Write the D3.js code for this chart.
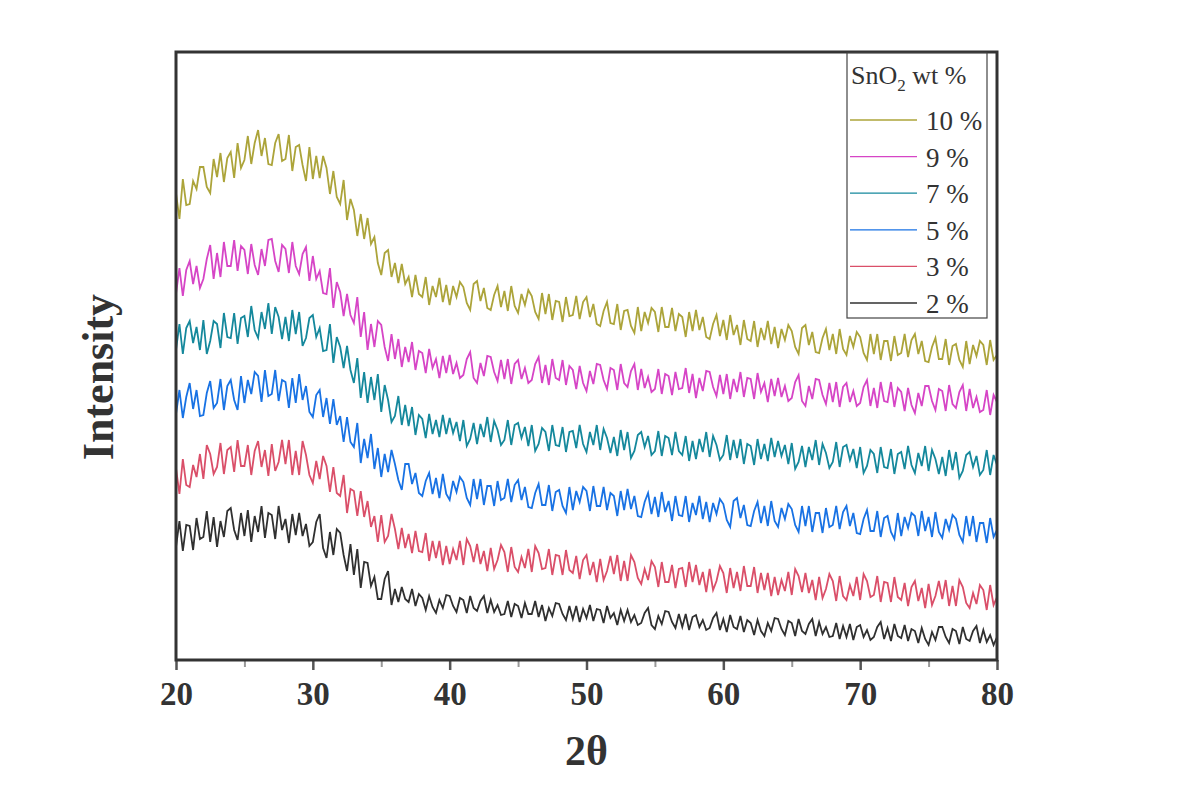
<!DOCTYPE html>
<html>
<head>
<meta charset="utf-8">
<script src="https://cdn.jsdelivr.net/npm/d3@7"></script>
<style>
  html, body { margin: 0; padding: 0; background: #fff; }
  svg { display: block; }
</style>
</head>
<body>
<div id="chart"></div>
<script>
// 2θ grid: 20° .. 80°, every 0.25°
const START = 20;
const STEP = 0.25;

const LABELS = ["10 %", "9 %", "7 %", "5 %", "3 %", "2 %"];
const COLORS = ["#aca43a", "#d645c6", "#15889c", "#1872e4", "#da4f69", "#303030"];

const X_TICKS = [20, 30, 40, 50, 60, 70, 80];
const X_MINOR = [25, 35, 45, 55, 65, 75];

// intensity (a.u., offset stacked)
const int10 = [
  467,441,481,455, 456,479,471,493, 493,473,467,501, 483,507,478,502, 508,482,517,492,
  500,524,496,517, 530,504,522,496, 495,517,526,499, 501,525,489,513, 515,495,479,513,
  481,504,482,504, 492,466,489,463, 456,480,440,461, 450,424,446,421, 442,416,423,397,
  385,407,410,383, 397,377,396,376, 383,363,385,366, 363,383,355,374, 363,382,358,375,
  355,374,363,378, 373,357,350,376, 379,359,372,352, 350,365,374,353, 369,349,374,354,
  347,366,355,370, 364,348,341,367, 346,366,340,359, 358,338,363,344, 345,364,341,358,
  363,343,356,336, 334,349,358,337, 336,356,330,349, 350,334,327,353, 329,348,337,352,
  348,328,353,333, 333,352,329,346, 343,323,348,329, 350,330,343,323, 321,336,345,324,
  340,320,345,325, 335,315,340,321, 319,339,313,332, 320,339,316,333, 312,331,320,335,
  329,313,306,332, 335,315,328,308, 307,322,331,310, 326,306,331,311, 305,324,313,328,
  323,307,300,326, 306,326,300,319, 319,299,324,305, 307,326,303,320, 326,306,319,299,
  298,313,322,301, 301,321,295,314, 316,300,293,319, 296,315,304,319, 315,295,320,300,
  305
];

const int9 = [
  366,392,364,390, 399,376,394,372, 381,401,415,381, 407,383,418,394, 394,420,389,414,
  410,386,416,395, 385,411,394,420, 421,399,388,415, 411,387,418,394, 386,406,413,379,
  404,381,389,367, 366,392,352,378, 368,344,366,345, 337,363,323,348, 310,336,313,339,
  335,313,299,326, 301,321,293,313, 298,318,290,309, 307,287,311,292, 301,282,304,287,
  305,286,297,282, 285,301,308,282, 277,297,284,304, 303,288,279,300, 281,301,276,296,
  300,281,292,277, 280,296,303,277, 295,275,301,282, 280,300,275,294, 290,271,294,277,
  269,289,276,296, 295,280,271,292, 290,270,296,277, 273,289,296,270, 291,272,283,268,
  271,291,266,286, 284,265,288,271, 272,292,267,286, 262,282,269,289, 288,273,264,285,
  266,286,261,281, 268,288,263,282, 281,261,287,268, 277,258,281,264, 282,263,274,259,
  262,278,285,259, 254,274,261,281, 280,265,256,277, 258,278,253,273, 277,258,269,254,
  257,273,280,254, 272,252,278,259, 258,278,253,272, 268,249,272,255, 247,267,254,274,
  274,259,250,271, 269,249,275,256, 252,268,275,249, 271,252,263,248, 250,270,245,265,
  258
];

const int7 = [
  310,336,306,332, 339,317,333,310, 340,306,319,339, 336,312,347,323, 322,347,316,342,
  344,323,354,330, 322,348,331,357, 326,353,343,321, 343,319,350,326, 348,314,322,342,
  345,323,332,309, 310,336,297,323, 313,292,314,290, 277,302,262,288, 257,283,260,286,
  248,275,260,238, 244,264,235,255, 234,253,225,245, 241,222,246,226, 240,223,245,226,
  242,227,238,219, 240,214,221,237, 216,236,223,243, 218,239,230,215, 220,240,215,235,
  237,222,233,214, 235,209,216,232, 228,209,235,215, 214,233,208,228, 229,212,235,216,
  208,228,215,235, 210,231,222,207, 223,204,230,210, 228,202,209,225, 228,213,224,205,
  209,229,204,224, 222,205,228,209, 205,224,199,219, 201,221,208,228, 203,224,215,200,
  205,225,200,220, 202,221,196,216, 214,195,221,201, 216,199,222,203, 219,204,215,196,
  217,191,198,214, 193,213,200,220, 195,216,207,192, 198,218,193,213, 215,200,211,192,
  213,187,194,210, 206,187,213,193, 192,211,186,206, 208,191,214,195, 187,207,194,214,
  189,210,201,186, 203,184,210,190, 208,182,189,205, 208,193,204,185, 190,210,185,205,
  195
];

const int5 = [
  246,270,242,263, 277,251,270,244, 245,267,279,252, 257,281,250,274, 280,260,250,284,
  257,280,266,288, 284,258,290,264, 266,290,259,280, 278,252,282,257, 286,260,274,248,
  243,265,270,243, 262,236,261,235, 244,218,243,218, 213,237,197,221, 202,226,191,212,
  183,206,188,210, 196,180,170,196, 196,176,187,167, 164,179,187,166, 182,162,186,166,
  160,179,168,183, 178,162,155,181, 161,181,155,174, 174,154,179,160, 162,181,158,175,
  180,160,173,153, 152,167,176,155, 155,175,149,168, 170,154,147,173, 150,169,158,173,
  169,149,174,154, 154,173,150,167, 164,144,169,150, 171,151,164,144, 143,158,167,146,
  163,143,168,148, 159,139,164,145, 144,164,138,157, 145,164,141,158, 138,157,146,161,
  156,140,133,159, 162,142,155,135, 134,149,158,137, 154,134,159,139, 133,152,141,156,
  151,135,128,154, 134,154,128,147, 147,127,152,133, 135,154,131,148, 154,134,147,127,
  126,141,150,129, 129,149,123,142, 144,128,121,147, 124,143,132,147, 144,124,149,129,
  143,123,148,128, 122,141,130,145, 141,125,118,144, 124,144,118,137, 137,117,142,123,
  130
];

const int3 = [
  192,166,201,175, 173,195,183,206, 181,215,206,186, 193,217,186,210, 213,188,220,194,
  194,215,185,209, 219,193,210,184, 216,189,198,220, 196,220,185,209, 185,219,205,185,
  177,199,181,204, 194,168,193,167, 164,185,147,171, 169,144,169,143, 159,133,144,118,
  145,118,124,146, 131,111,132,112, 126,107,129,109, 108,127,99,119, 102,119,95,114,
  96,111,100,119, 95,121,114,98, 116,96,109,89, 112,91,100,115, 108,88,113,93,
  88,103,92,111, 88,114,107,91, 92,111,85,105, 104,85,110,90, 87,104,81,100,
  105,85,98,78, 101,80,89,104, 86,105,79,99, 79,105,98,82, 76,91,80,99,
  93,73,98,78, 78,95,72,91, 92,73,98,78, 95,75,88,68, 91,70,79,94,
  87,67,92,72, 88,69,94,74, 74,93,67,87, 70,87,64,83, 65,80,69,88,
  65,91,84,68, 87,67,80,60, 83,62,71,86, 79,59,84,64, 60,75,64,83,
  60,86,79,63, 65,84,58,78, 77,58,83,63, 60,77,54,73, 79,59,72,52,
  76,55,64,79, 61,80,54,74, 54,80,73,57, 52,67,56,75, 70,50,75,55,
  63
];

const int2 = [
  113,139,109,135, 134,110,142,121, 123,149,118,143, 113,139,123,149, 152,130,120,147,
  124,150,118,144, 128,154,122,147, 145,121,154,130, 141,117,146,125, 147,124,136,114,
  118,138,146,112, 102,128,105,131, 127,105,89,116, 85,111,72,98, 97,74,83,61,
  61,81,89,55, 71,58,73,61, 58,71,54,66, 62,50,64,53, 47,60,52,65,
  64,54,48,62, 60,47,64,52, 49,59,64,47, 60,48,55,45, 46,59,43,56,
  54,42,57,46, 46,59,43,55, 39,52,44,57, 56,46,40,54, 41,54,38,51,
  42,55,39,51, 50,37,54,42, 47,35,50,39, 50,38,45,35, 37,47,52,35,
  31,44,36,49, 48,38,32,46, 33,46,30,43, 45,33,40,30, 32,42,47,30,
  41,28,45,33, 31,44,28,40, 37,25,40,29, 24,37,29,42, 41,31,25,39,
  37,24,41,29, 26,36,41,24, 38,26,33,23, 24,37,21,34, 23,36,20,33,
  35,23,30,20, 23,33,38,21, 32,19,36,24, 22,35,19,31, 29,17,32,21,
  15,28,20,33, 33,23,17,31, 29,16,33,21, 19,29,34,17, 30,18,25,15,
  23
];

const SERIES = [int10, int9, int7, int5, int3, int2];

renderChart();

function renderChart() {
  const width = 1190, height = 803;
  const left = 176, right = 997, top = 52, bottom = 660;
  const serif = "'Liberation Serif', 'Times New Roman', serif";

  const svg = d3.select("#chart")
    .append("svg")
    .attr("width", width)
    .attr("height", height);

  const x = d3.scaleLinear().domain([20, 80]).range([left, right]);
  const y = d3.scaleLinear().domain([0, 608]).range([bottom, top]);

  // curves, lowest sample drawn first
  const line = d3.line()
    .x((d, i) => x(START + i * STEP))
    .y(d => y(d));

  svg.selectAll(".trace")
    .data(SERIES.map((s, i) => ({ values: s, color: COLORS[i] })).reverse())
    .enter()
    .append("path")
    .attr("class", "trace")
    .attr("d", d => line(d.values))
    .attr("fill", "none")
    .attr("stroke", d => d.color)
    .attr("stroke-width", 1.8)
    .attr("stroke-linejoin", "miter");

  // minor ticks
  svg.append("g")
    .attr("transform", `translate(0,${bottom})`)
    .call(d3.axisBottom(x).tickValues(X_MINOR).tickSize(7).tickFormat(""))
    .call(g => g.select(".domain").remove())
    .call(g => g.selectAll(".tick line").attr("stroke", "#999").attr("stroke-width", 2));

  // major ticks + labels
  svg.append("g")
    .attr("transform", `translate(0,${bottom})`)
    .call(d3.axisBottom(x).tickValues(X_TICKS).tickSize(10).tickFormat(d3.format("d")))
    .call(g => g.select(".domain").remove())
    .call(g => g.selectAll(".tick line").attr("stroke", "#555").attr("stroke-width", 2.5))
    .call(g => g.selectAll(".tick text")
      .attr("y", 45)
      .attr("dy", 0)
      .style("font-family", serif)
      .style("font-weight", "bold")
      .style("font-size", "33px")
      .style("fill", "#333"));

  // frame
  svg.append("rect")
    .attr("x", left)
    .attr("y", top)
    .attr("width", right - left)
    .attr("height", bottom - top)
    .attr("fill", "none")
    .attr("stroke", "#333")
    .attr("stroke-width", 3);

  // axis titles
  svg.append("text")
    .attr("x", (left + right) / 2)
    .attr("y", 765)
    .attr("text-anchor", "middle")
    .style("font-family", serif)
    .style("font-weight", "bold")
    .style("font-size", "42px")
    .style("fill", "#333")
    .text("2θ");

  svg.append("text")
    .attr("transform", "translate(113,377) rotate(-90)")
    .attr("text-anchor", "middle")
    .style("font-family", serif)
    .style("font-weight", "bold")
    .style("font-size", "44px")
    .style("fill", "#333")
    .text("Intensity");

  // legend
  const lg = svg.append("g");
  lg.append("rect")
    .attr("x", 847)
    .attr("y", 53)
    .attr("width", 140)
    .attr("height", 265)
    .attr("fill", "#fff")
    .attr("stroke", "#444")
    .attr("stroke-width", 1.2);

  const title = lg.append("text")
    .attr("x", 851)
    .attr("y", 84)
    .style("font-family", serif)
    .style("font-size", "26px")
    .style("fill", "#333");
  title.append("tspan").text("SnO");
  title.append("tspan").attr("dy", 7).style("font-size", "17px").text("2");
  title.append("tspan").attr("dy", -7).text(" wt %");

  const ly = d3.scalePoint().domain(LABELS).range([120, 303]);

  const item = lg.selectAll(".item")
    .data(LABELS)
    .enter()
    .append("g")
    .attr("class", "item")
    .attr("transform", d => `translate(0,${ly(d)})`);

  item.append("line")
    .attr("x1", 850)
    .attr("x2", 917)
    .attr("stroke", (d, i) => COLORS[i])
    .attr("stroke-width", 1.3);

  item.append("text")
    .attr("x", 926)
    .attr("y", 10)
    .style("font-family", serif)
    .style("font-size", "27px")
    .style("fill", "#333")
    .text(d => d);
}
</script>
</body>
</html>
